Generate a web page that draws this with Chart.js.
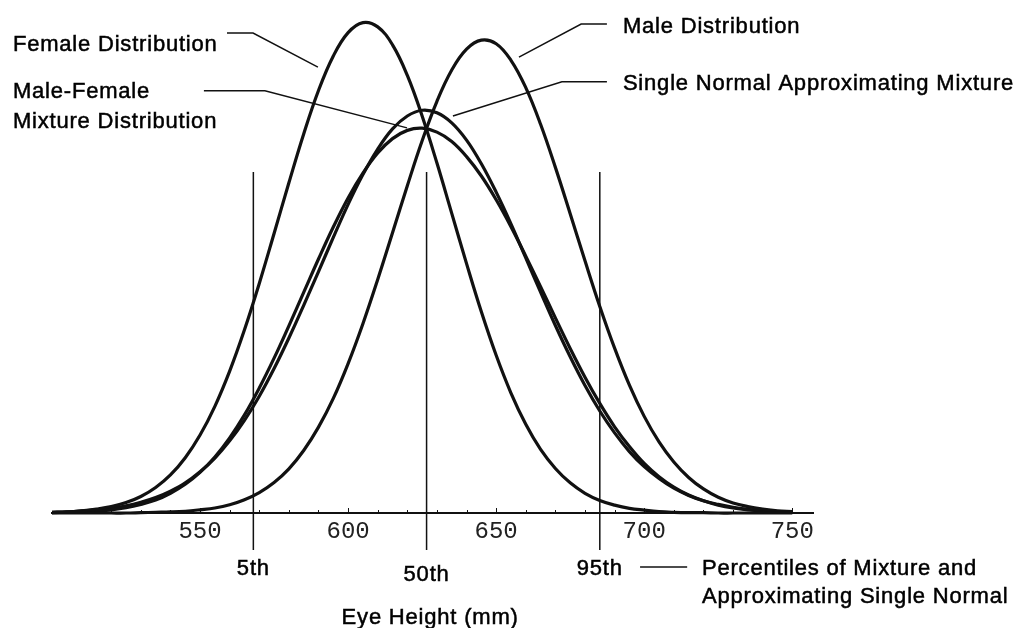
<!DOCTYPE html>
<html>
<head>
<meta charset="utf-8">
<title>Eye Height Distributions</title>
<script src="https://cdn.jsdelivr.net/npm/chart.js@4.4.1/dist/chart.umd.min.js"></script>
<style>
    html, body { margin: 0; padding: 0; background: #fff; }
    #wrap { width: 1015px; height: 628px; }
</style>
</head>
<body>
<div id="wrap"><canvas id="eyeChart" width="1015" height="628"></canvas></div>
<script>
// eye height (mm), sampled every 5 mm
const eyeHeights = [500, 505, 510, 515, 520, 525, 530, 535, 540, 545,
    550, 555, 560, 565, 570, 575, 580, 585, 590, 595,
    600, 605, 610, 615, 620, 625, 630, 635, 640, 645,
    650, 655, 660, 665, 670, 675, 680, 685, 690, 695,
    700, 705, 710, 715, 720, 725, 730, 735, 740, 745, 750];

// relative density (x1000)
const femaleDensity = [0.02, 0.03, 0.06, 0.11, 0.18, 0.29, 0.46, 0.71, 1.06, 1.54,
    2.17, 2.97, 3.95, 5.10, 6.39, 7.78, 9.19, 10.55, 11.76, 12.72,
    13.37, 13.65, 13.53, 13.03, 12.18, 11.05, 9.74, 8.34, 6.94, 5.60,
    4.39, 3.34, 2.47, 1.77, 1.24, 0.84, 0.55, 0.35, 0.22, 0.13,
    0.08, 0.04, 0.02, 0.01, 0.01, 0, 0, 0, 0, 0, 0];

const maleDensity = [0, 0, 0, 0, 0, 0, 0.01, 0.02, 0.03, 0.05,
    0.09, 0.14, 0.23, 0.37, 0.57, 0.85, 1.23, 1.74, 2.39, 3.19,
    4.16, 5.27, 6.50, 7.80, 9.11, 10.36, 11.46, 12.33, 12.91, 13.16,
    13.06, 12.60, 11.84, 10.82, 9.62, 8.33, 7.02, 5.75, 4.59, 3.56,
    2.69, 1.98, 1.42, 0.99, 0.67, 0.44, 0.28, 0.18, 0.11, 0.06, 0.04];

const mixtureDensity = [0.01, 0.02, 0.03, 0.05, 0.09, 0.15, 0.24, 0.36, 0.55, 0.80,
    1.13, 1.56, 2.09, 2.73, 3.48, 4.31, 5.21, 6.14, 7.07, 7.96,
    8.77, 9.46, 10.02, 10.42, 10.65, 10.71, 10.60, 10.34, 9.92, 9.38,
    8.72, 7.97, 7.15, 6.30, 5.43, 4.58, 3.78, 3.05, 2.40, 1.85,
    1.38, 1.01, 0.72, 0.50, 0.34, 0.22, 0.14, 0.09, 0.05, 0.03, 0.02];

const singleNormalDensity = [0.02, 0.03, 0.06, 0.09, 0.13, 0.20, 0.30, 0.43, 0.61, 0.84,
    1.15, 1.53, 2.01, 2.58, 3.25, 4.02, 4.87, 5.78, 6.72, 7.67,
    8.59, 9.42, 10.13, 10.69, 11.05, 11.21, 11.14, 10.86, 10.38, 9.72,
    8.93, 8.05, 7.10, 6.15, 5.22, 4.35, 3.55, 2.84, 2.23, 1.71,
    1.29, 0.96, 0.69, 0.49, 0.34, 0.24, 0.16, 0.10, 0.07, 0.04, 0.03];

const percentileNames = ['5th', '50th', '95th'];
const percentileValues = [568, 626.5, 685];

const tickLabels = [550, 600, 650, 700, 750];

// ---- layout constants (not data) ----
const PCT_TOP = 9.49;
const PCT_BOTTOM = -1.03;
const TEXT_FONT = '22px "Liberation Sans", Arial, Helvetica, sans-serif';
const INK = '#111';

function toPoints(values) {
    return eyeHeights.map((h, i) => ({ x: h, y: values[i] }));
}

function curve(label, values) {
    return {
        label: label,
        data: toPoints(values),
        borderColor: INK,
        borderWidth: 3.2,
        pointRadius: 0,
        tension: 0.4,
        fill: false
    };
}

const percentileSets = percentileValues.map((v, i) => ({
    label: percentileNames[i],
    data: [{ x: v, y: PCT_TOP }, { x: v, y: PCT_BOTTOM }],
    borderColor: INK,
    borderWidth: 1.5,
    pointRadius: 0,
    tension: 0
}));

// labels + leader lines, in data units
const callouts = [
    { lines: ['Female Distribution'], x: 486.8, y: [12.85],
      leader: [[559.1, 13.36], [567.9, 13.36], [589.8, 12.41]] },
    { lines: ['Male-Female', 'Mixture Distribution'], x: 486.8, y: [11.55, 10.72],
      leader: [[551.3, 11.75], [571.9, 11.75], [619.9, 10.72]] },
    { lines: ['Male Distribution'], x: 692.8, y: [13.36],
      leader: [[687.4, 13.61], [678.7, 13.61], [657.7, 12.69]] },
    { lines: ['Single Normal Approximating Mixture'], x: 692.8, y: [11.77],
      leader: [[687.4, 12.0], [672.2, 12.0], [635.4, 11.05]] },
    { lines: ['Percentiles of Mixture and', 'Approximating Single Normal'], x: 719.5, y: [-1.73, -2.50],
      leader: [[698.6, -1.50], [714.5, -1.50]] }
];
const percentileLabelY = [-1.73, -1.89, -1.73];

function drawText(ctx, s, x, y) {
    ctx.strokeText(s, x, y);
    ctx.fillText(s, x, y);
}

const annotations = {
    id: 'annotations',
    afterDatasetsDraw(chart) {
        const { ctx, scales: { x, y } } = chart;
        const px = v => x.getPixelForValue(v);
        const py = v => y.getPixelForValue(v);
        const axisY = py(0);

        ctx.save();
        ctx.strokeStyle = INK;
        ctx.fillStyle = INK;

        // small tick marks pointing up from the axis
        ctx.lineWidth = 1;
        x.ticks.forEach(t => {
            if (t.value <= 500 || t.value > 750 || t.value % 10 !== 0) return;
            const len = t.value % 50 === 0 ? 5 : 3;
            const xp = Math.round(px(t.value)) + 0.5;
            ctx.beginPath();
            ctx.moveTo(xp, axisY);
            ctx.lineTo(xp, axisY - len);
            ctx.stroke();
        });

        // leader lines
        ctx.lineWidth = 1.5;
        callouts.forEach(c => {
            ctx.beginPath();
            c.leader.forEach(([a, b], i) => {
                if (i === 0) ctx.moveTo(px(a), py(b));
                else ctx.lineTo(px(a), py(b));
            });
            ctx.stroke();
        });

        ctx.font = TEXT_FONT;
        ctx.letterSpacing = '0.8px';
        ctx.textBaseline = 'alphabetic';
        ctx.lineWidth = 0.5;
        ctx.fillStyle = '#000';
        ctx.strokeStyle = '#000';

        ctx.textAlign = 'left';
        callouts.forEach(c => {
            c.lines.forEach((s, i) => drawText(ctx, s, px(c.x), py(c.y[i])));
        });

        ctx.textAlign = 'center';
        percentileValues.forEach((v, i) => {
            drawText(ctx, percentileNames[i], px(v), py(percentileLabelY[i]));
        });
        drawText(ctx, 'Eye Height (mm)', px(627.7), py(-3.09));

        ctx.restore();
    }
};

const ctx = document.getElementById('eyeChart').getContext('2d');
new Chart(ctx, {
    type: 'line',
    data: {
        datasets: [
            ...percentileSets,
            curve('Female Distribution', femaleDensity),
            curve('Male Distribution', maleDensity),
            curve('Male-Female Mixture Distribution', mixtureDensity),
            curve('Single Normal Approximating Mixture', singleNormalDensity)
        ]
    },
    options: {
        responsive: false,
        animation: false,
        devicePixelRatio: 1,
        layout: { padding: { left: 52, right: 202, top: 10, bottom: 0 } },
        plugins: {
            legend: { display: false },
            tooltip: { enabled: false }
        },
        scales: {
            x: {
                type: 'linear',
                min: 500,
                max: 757,
                position: { y: 0 },
                grid: { display: false, drawTicks: false },
                border: { display: true, color: INK, width: 2 },
                ticks: {
                    stepSize: 10,
                    includeBounds: false,
                    autoSkip: false,
                    maxRotation: 0,
                    padding: 4,
                    color: '#222',
                    font: { family: '"Liberation Mono", "DejaVu Sans Mono", monospace', size: 24 },
                    callback: value => tickLabels.includes(value) ? String(value) : ''
                }
            },
            y: {
                type: 'linear',
                min: -3.2,
                max: 14,
                display: false
            }
        }
    },
    plugins: [annotations]
});
</script>
</body>
</html>
